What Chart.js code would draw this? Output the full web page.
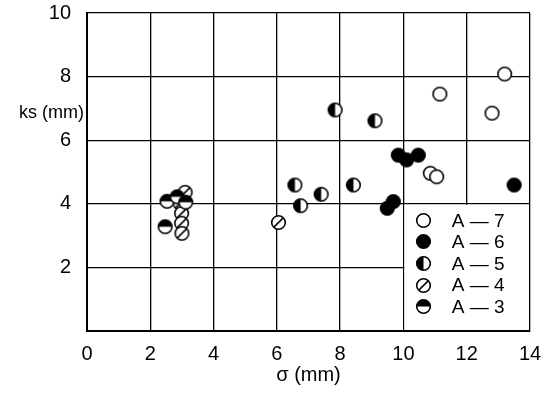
<!DOCTYPE html>
<html>
<head>
<meta charset="utf-8">
<script src="https://cdn.jsdelivr.net/npm/chart.js@4"></script>
<style>
  html, body { margin: 0; padding: 0; background: #fff; }
  #wrap { width: 544px; height: 394px; }
</style>
</head>
<body>
<div id="wrap"><canvas id="chart" width="544" height="394"></canvas></div>
<script>
const xTicks = [0, 2, 4, 6, 8, 10, 12, 14];
const yTicks = [0, 2, 4, 6, 8, 10];
const seriesNames = ['A — 7', 'A — 6', 'A — 5', 'A — 4', 'A — 3'];

// sigma / ks pairs per sample group
const a7Sigma = [13.2, 11.15, 12.8, 10.85, 11.05];
const a7Ks    = [8.08, 7.45, 6.85, 4.96, 4.85];
const a6Sigma = [9.84, 10.1, 10.47, 13.5, 9.68, 9.49];
const a6Ks    = [5.53, 5.38, 5.53, 4.59, 4.07, 3.86];
const a5Sigma = [7.84, 9.1, 6.57, 7.4, 6.75, 8.42];
const a5Ks    = [6.95, 6.61, 4.59, 4.3, 3.94, 4.59];
const a4Sigma = [6.05, 3.1, 2.94, 2.99, 2.99, 3.0];
const a4Ks    = [3.41, 4.36, 4.02, 3.70, 3.39, 3.07];
const a3Sigma = [2.47, 2.53, 2.85, 3.12];
const a3Ks    = [3.28, 4.08, 4.22, 4.05];

// drawing order: A-3 on top of the slashed circles
const seriesOrder = [1, 2, 3, 4, 0];

const FONT = '"Liberation Sans", Arial, sans-serif';

// small canvases used as point styles: open, full, left half, slashed, top half
function makeMarker(kind) {
  const size = 17, c = size / 2, r = 6.8;
  const cv = document.createElement('canvas');
  cv.width = cv.height = size;
  const g = cv.getContext('2d');
  g.beginPath();
  g.arc(c, c, r, 0, Math.PI * 2);
  g.fillStyle = '#fff';
  g.fill();
  g.fillStyle = '#000';
  if (kind === 'full') {
    g.beginPath(); g.arc(c, c, r, 0, Math.PI * 2); g.fill();
  } else if (kind === 'left') {
    g.beginPath(); g.moveTo(c, c); g.arc(c, c, r, Math.PI / 2, Math.PI * 1.5); g.closePath(); g.fill();
  } else if (kind === 'top') {
    g.beginPath(); g.moveTo(c, c); g.arc(c, c, r, Math.PI, Math.PI * 2); g.closePath(); g.fill();
  } else if (kind === 'slash') {
    g.beginPath();
    g.moveTo(c - r * 0.72, c + r * 0.72);
    g.lineTo(c + r * 0.72, c - r * 0.72);
    g.lineWidth = 1.5; g.strokeStyle = '#000'; g.stroke();
  }
  g.beginPath();
  g.arc(c, c, r, 0, Math.PI * 2);
  g.lineWidth = 1.6; g.strokeStyle = '#000'; g.stroke();
  return cv;
}

const markers = [makeMarker('open'), makeMarker('full'), makeMarker('left'), makeMarker('slash'), makeMarker('top')];

function pts(xs, ys) {
  return xs.map((x, i) => ({ x: x, y: ys[i] }));
}

const groups = [
  pts(a7Sigma, a7Ks), pts(a6Sigma, a6Ks), pts(a5Sigma, a5Ks), pts(a4Sigma, a4Ks), pts(a3Sigma, a3Ks)
];

// blank out the grid where the key sits, then draw the key and the horizontal axis captions
const sheetPlugin = {
  id: 'sheet',
  beforeDatasetsDraw(chart) {
    const { ctx, scales: { x, y } } = chart;
    const l = x.getPixelForValue(10) + 1, r = x.getPixelForValue(14) - 1;
    const t = y.getPixelForValue(4) + 1, b = y.getPixelForValue(0) - 1;
    ctx.save();
    ctx.fillStyle = '#fff';
    ctx.fillRect(l, t, r - l, b - t);
    ctx.restore();
  },
  afterDraw(chart) {
    const { ctx, scales: { x, y } } = chart;
    ctx.save();
    ctx.fillStyle = '#000';
    ctx.font = '19px ' + FONT;
    ctx.textBaseline = 'middle';
    seriesNames.forEach((name, i) => {
      const py = y.getPixelForValue(3.48 - i * 0.68);
      const mk = markers[i];
      ctx.drawImage(mk, Math.round(x.getPixelForValue(10.65) - mk.width / 2), Math.round(py - mk.height / 2));
      ctx.textAlign = 'left';
      ctx.fillText(name, x.getPixelForValue(11.53), py + 1);
    });
    ctx.font = '18px ' + FONT;
    ctx.textAlign = 'right';
    ctx.fillText('ks (mm)', x.left - 3, y.getPixelForValue(6.85));
    ctx.font = '20px ' + FONT;
    ctx.textAlign = 'center';
    ctx.fillText('σ (mm)', x.getPixelForValue(7), 375);
    ctx.restore();
  }
};

// fixed axis boxes; the edge labels may overhang the plot
function fitBox(s, w, h) {
  if (w) s.width = w;
  if (h) s.height = h;
  s.paddingTop = s.paddingBottom = s.paddingLeft = s.paddingRight = 0;
}

new Chart(document.getElementById('chart'), {
  type: 'scatter',
  data: {
    datasets: groups.map((data, i) => ({
      label: seriesNames[i],
      data: data,
      order: seriesOrder[i],
      pointStyle: markers[i],
      pointRadius: 7,
      pointHoverRadius: 7
    }))
  },
  options: {
    responsive: false,
    animation: false,
    devicePixelRatio: 1,
    layout: { padding: { left: 0, right: 14, top: 13, bottom: 0 } },
    plugins: { legend: { display: false }, tooltip: { enabled: false } },
    scales: {
      x: {
        type: 'linear', min: 0, max: 14,
        afterBuildTicks: s => { s.ticks = xTicks.map(v => ({ value: v })); },
        afterFit: s => fitBox(s, 0, 63),
        ticks: { color: '#000', font: { family: FONT, size: 20 }, padding: 11, maxRotation: 0 },
        grid: { color: '#000', lineWidth: 1.3, drawTicks: false },
        border: { color: '#000', width: 2 }
      },
      y: {
        type: 'linear', min: 0, max: 10,
        afterBuildTicks: s => { s.ticks = yTicks.map(v => ({ value: v })); },
        afterFit: s => fitBox(s, 87, 0),
        ticks: { color: '#000', font: { family: FONT, size: 20 }, padding: 16, callback: v => (v === 0 ? '' : v) },
        grid: { color: '#000', lineWidth: 1.3, drawTicks: false },
        border: { color: '#000', width: 2 }
      }
    }
  },
  plugins: [sheetPlugin]
});
</script>
</body>
</html>
